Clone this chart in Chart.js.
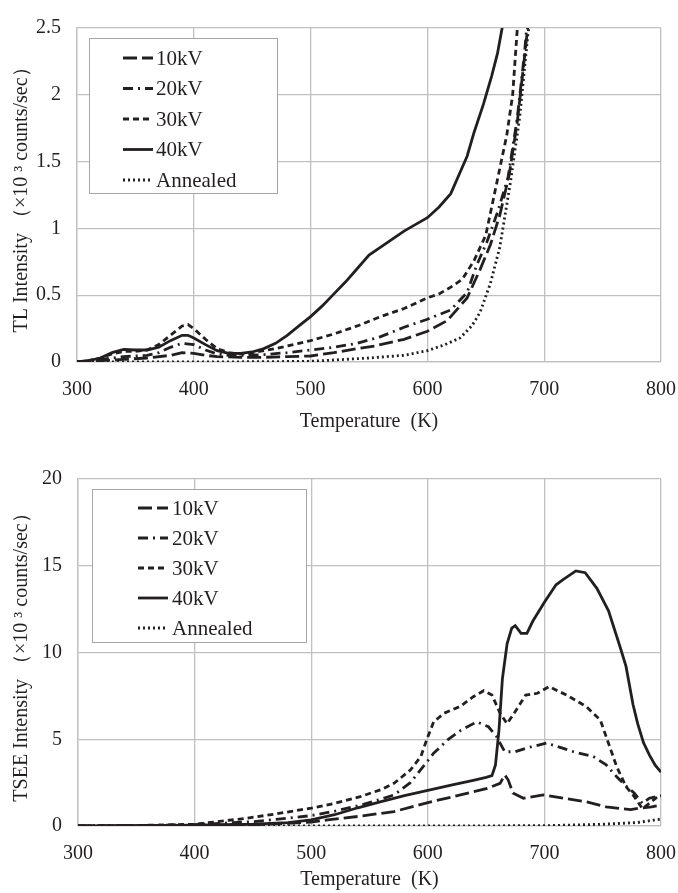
<!DOCTYPE html>
<html lang="en">
<head>
    <meta charset="UTF-8">
    <title>TL and TSEE glow curves</title>
    <script src="https://cdn.jsdelivr.net/npm/chart.js"></script>
    <style>
        body {
            margin: 0;
            background: #fff;
        }
        canvas {
            display: block;
        }
    </style>
</head>
<body>
    <canvas id="tlChart" width="678" height="440"></canvas>
    <canvas id="tseeChart" width="678" height="453"></canvas>

    <script>
        const seriesLabels = ['10kV', '20kV', '30kV', '40kV', 'Annealed'];
        const xTicks = [300, 400, 500, 600, 700, 800];

        // TL glow curves (x10^3 counts/sec)
        const tl10T = [300, 320, 340, 360, 380, 390, 400, 410, 420, 440, 460, 480, 500, 520, 540, 555, 580, 600, 617, 634, 645, 654, 662, 670, 677, 684, 687];
        const tl10 = [0, 0.01, 0.02, 0.03, 0.05, 0.07, 0.065, 0.05, 0.04, 0.035, 0.035, 0.04, 0.045, 0.07, 0.1, 0.12, 0.17, 0.23, 0.31, 0.48, 0.69, 0.88, 1.1, 1.4, 1.8, 2.35, 2.6];
        const tl20T = [300, 320, 340, 360, 370, 380, 390, 400, 410, 420, 430, 440, 460, 480, 500, 520, 540, 560, 580, 600, 620, 634, 642, 651, 660, 669, 677, 683, 686];
        const tl20 = [0, 0.02, 0.04, 0.05, 0.07, 0.11, 0.14, 0.13, 0.09, 0.06, 0.05, 0.05, 0.055, 0.07, 0.09, 0.11, 0.14, 0.19, 0.26, 0.32, 0.39, 0.52, 0.72, 0.9, 1.12, 1.38, 1.83, 2.3, 2.6];
        const tl30T = [300, 310, 320, 330, 340, 350, 360, 370, 380, 390, 395, 400, 410, 420, 430, 440, 450, 460, 470, 480, 490, 500, 520, 540, 560, 580, 600, 610, 620, 630, 640, 650, 656, 662, 668, 673, 677, 680];
        const tl30 = [0, 0.01, 0.03, 0.06, 0.08, 0.08, 0.09, 0.13, 0.2, 0.27, 0.28, 0.25, 0.17, 0.1, 0.07, 0.06, 0.07, 0.085, 0.1, 0.12, 0.14, 0.16, 0.21, 0.27, 0.34, 0.4, 0.48, 0.51, 0.56, 0.62, 0.76, 0.95, 1.2, 1.45, 1.7, 2.0, 2.5, 2.7];
        const tl40T = [300, 310, 320, 330, 340, 350, 360, 370, 380, 390, 395, 400, 410, 420, 430, 440, 450, 460, 470, 480, 490, 500, 510, 520, 530, 540, 550, 560, 570, 580, 590, 600, 610, 620, 628, 634, 640, 648, 655, 660, 664, 667];
        const tl40 = [0, 0.01, 0.03, 0.07, 0.095, 0.09, 0.09, 0.11, 0.16, 0.2, 0.2, 0.18, 0.13, 0.085, 0.065, 0.065, 0.075, 0.1, 0.14, 0.2, 0.27, 0.34, 0.42, 0.51, 0.6, 0.7, 0.8, 0.86, 0.92, 0.98, 1.03, 1.08, 1.16, 1.26, 1.42, 1.54, 1.72, 1.93, 2.14, 2.31, 2.5, 2.62];
        const tlAnT = [300, 350, 400, 450, 500, 550, 580, 600, 615, 628, 638, 645, 654, 662, 671, 679, 686, 689];
        const tlAn = [0, 0, 0, 0.002, 0.005, 0.03, 0.05, 0.085, 0.13, 0.18, 0.27, 0.37, 0.59, 0.86, 1.34, 1.83, 2.45, 2.65];

        // TSEE glow curves (x10^3 counts/sec)
        const ts10T = [300, 350, 400, 450, 480, 500, 514, 540, 571, 600, 628, 651, 662, 666, 669, 673, 682, 699, 716, 736, 753, 774, 782, 792, 800];
        const ts10 = [0, 0.02, 0.04, 0.08, 0.15, 0.22, 0.35, 0.55, 0.83, 1.35, 1.79, 2.17, 2.46, 2.94, 2.65, 1.9, 1.6, 1.79, 1.6, 1.4, 1.1, 0.95, 1.03, 1.1, 1.2];
        const ts20T = [300, 350, 400, 450, 480, 500, 520, 542, 560, 571, 585, 596, 605, 611, 617, 628, 634, 642, 652, 659, 666, 675, 685, 702, 725, 742, 753, 762, 769, 777, 784, 790, 800];
        const ts20 = [0, 0.02, 0.08, 0.25, 0.45, 0.6, 0.85, 1.2, 1.55, 1.79, 2.5, 3.42, 4.2, 4.57, 4.96, 5.5, 5.72, 6.0, 5.72, 5.15, 4.28, 4.28, 4.5, 4.78, 4.28, 4.0, 3.52, 2.84, 2.36, 1.9, 1.3, 1.6, 1.75];
        const ts30T = [300, 350, 400, 445, 470, 500, 520, 542, 560, 571, 585, 594, 599, 605, 614, 628, 639, 648, 655, 662, 668, 675, 684, 694, 704, 719, 736, 748, 756, 762, 770, 776, 780, 784, 790, 797, 800];
        const ts30 = [0, 0.03, 0.1, 0.45, 0.7, 1.03, 1.3, 1.69, 2.1, 2.46, 3.22, 4.0, 4.96, 6.0, 6.5, 6.9, 7.45, 7.8, 7.55, 6.5, 5.9, 6.6, 7.55, 7.65, 8.03, 7.55, 6.88, 6.1, 4.57, 3.42, 2.27, 1.79, 1.4, 1.0, 1.3, 1.69, 1.7];
        const ts40T = [300, 350, 400, 450, 480, 500, 520, 540, 560, 580, 600, 620, 640, 650, 655, 658, 661, 664, 668, 672, 675, 680, 685, 690, 700, 710, 716, 727, 735, 745, 755, 765, 770, 776, 780, 785, 790, 795, 800];
        const ts40 = [0, 0.02, 0.05, 0.1, 0.2, 0.35, 0.65, 1.05, 1.4, 1.75, 2.05, 2.35, 2.65, 2.8, 2.9, 3.5, 5.5, 8.5, 10.5, 11.4, 11.55, 11.1, 11.1, 11.8, 12.9, 13.9, 14.2, 14.7, 14.6, 13.7, 12.4, 10.3, 9.2, 7.0, 5.9, 4.8, 4.1, 3.5, 3.1];
        const tsAnT = [300, 400, 500, 600, 700, 720, 750, 780, 800];
        const tsAn = [0, 0, 0, 0, 0.02, 0.05, 0.1, 0.2, 0.4];

        const ink = '#231f20';
        const gridGray = '#c0c0c0';
        const serif = 'Liberation Serif';
        const dashes = [[14, 5], [10, 5, 2, 5], [6, 4], [], [2, 3]];

        function points(xs, ys) {
            return xs.map((x, i) => ({ x: x, y: ys[i] }));
        }

        function makeDatasets(pairs) {
            return pairs.map((p, i) => ({
                label: seriesLabels[i],
                data: points(p[0], p[1]),
                borderColor: ink,
                borderWidth: 2.8,
                borderDash: dashes[i],
                pointRadius: 0,
                tension: 0,
                fill: false
            }));
        }

        // legend drawn inside the plot area with a grey box
        const boxLegend = {
            id: 'boxLegend',
            afterDraw(chart, args, o) {
                const ctx = chart.ctx;
                const a = chart.chartArea;
                const bx = a.left + o.x, by = a.top + o.y;
                ctx.save();
                ctx.fillStyle = '#fff';
                ctx.fillRect(bx, by, o.w, o.h);
                ctx.strokeStyle = '#a6a6a6';
                ctx.lineWidth = 1;
                ctx.strokeRect(bx + 0.5, by + 0.5, o.w, o.h);
                ctx.font = o.size + 'px "' + serif + '"';
                ctx.textBaseline = 'middle';
                chart.data.datasets.forEach((ds, i) => {
                    const y = by + o.row0 + i * o.gap;
                    ctx.setLineDash(ds.borderDash);
                    ctx.lineWidth = ds.borderWidth;
                    ctx.strokeStyle = ds.borderColor;
                    ctx.beginPath();
                    ctx.moveTo(a.left + o.sx, y);
                    ctx.lineTo(a.left + o.sx + o.sw, y);
                    ctx.stroke();
                    ctx.setLineDash([]);
                    ctx.fillStyle = ink;
                    ctx.fillText(ds.label, a.left + o.tx, y + 1);
                });
                ctx.restore();
            }
        };

        function makeChart(id, datasets, yMax, yStep, yTitle, pad, xHeight, legend) {
            return new Chart(document.getElementById(id).getContext('2d'), {
                type: 'line',
                data: { datasets: datasets },
                plugins: [boxLegend],
                options: {
                    responsive: false,
                    animation: false,
                    layout: { padding: { top: pad.top, right: 17, left: 0, bottom: 0 } },
                    plugins: {
                        legend: { display: false },
                        tooltip: { enabled: false },
                        boxLegend: legend
                    },
                    scales: {
                        x: {
                            type: 'linear',
                            min: 300,
                            max: 800,
                            afterBuildTicks: s => { s.ticks = xTicks.map(v => ({ value: v })); },
                            afterFit: s => { s.height = xHeight; s.paddingLeft = 0; s.paddingRight = 0; },
                            grid: { color: gridGray, lineWidth: 1.3, drawTicks: false },
                            border: { color: gridGray, width: 1.3 },
                            ticks: { color: ink, padding: 16, font: { family: serif, size: 20 } },
                            title: {
                                display: true,
                                text: 'Temperature  (K)',
                                color: ink,
                                padding: { top: 0, bottom: pad.xTitle },
                                font: { family: serif, size: 20 }
                            }
                        },
                        y: {
                            min: 0,
                            max: yMax,
                            afterFit: s => { s.width = pad.left; },
                            grid: { color: gridGray, lineWidth: 1.3, drawTicks: false },
                            border: { color: gridGray, width: 1.3 },
                            ticks: {
                                stepSize: yStep,
                                color: ink,
                                padding: 16,
                                font: { family: serif, size: 20 },
                                callback: v => String(v)
                            },
                            title: {
                                display: true,
                                text: yTitle,
                                color: ink,
                                padding: { top: 10, bottom: 0 },
                                font: { family: serif, size: 20 }
                            }
                        }
                    }
                }
            });
        }

        makeChart('tlChart',
            makeDatasets([[tl10T, tl10], [tl20T, tl20], [tl30T, tl30], [tl40T, tl40], [tlAnT, tlAn]]),
            2.5, 0.5, 'TL Intensity （×10 ³ counts/sec）',
            { top: 17, left: 77, xTitle: 6 }, 78,
            { x: 12, y: 10, w: 188, h: 155, row0: 20, gap: 30.5, sx: 46, sw: 30, tx: 79, size: 21 });

        makeChart('tseeChart',
            makeDatasets([[ts10T, ts10], [ts20T, ts20], [ts30T, ts30], [ts40T, ts40], [tsAnT, tsAn]]),
            20, 5, 'TSEE Intensity （×10 ³ counts/sec）',
            { top: 39, left: 78, xTitle: 1 }, 67,
            { x: 14, y: 10, w: 214, h: 153, row0: 19, gap: 30, sx: 60, sw: 30, tx: 94, size: 21 });
    </script>
</body>
</html>
